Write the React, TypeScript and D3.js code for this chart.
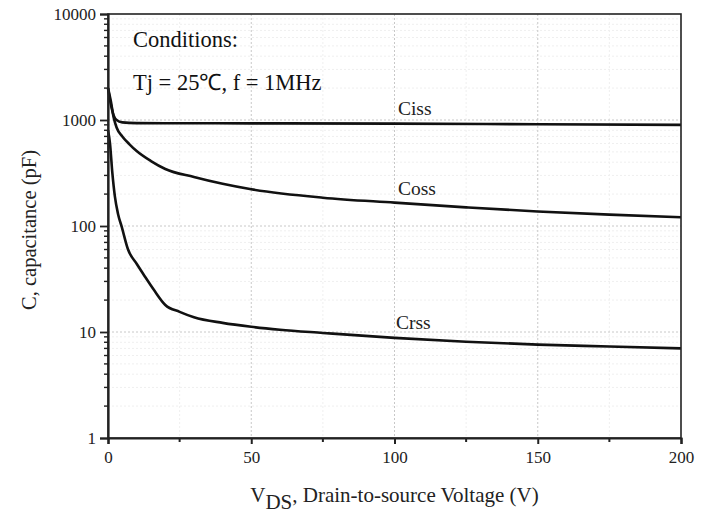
import React, { useRef, useEffect } from 'react'
import * as d3 from 'd3'

// V_DS (V) sample points
const cissV = [0, 1, 2, 3, 5, 10, 20, 50, 100, 150, 200]
const cissC = [2000, 1400, 1100, 1000, 950, 935, 932, 930, 925, 912, 900]

const cossV = [0, 1, 2, 3, 5, 7.5, 10, 15, 20, 30, 40, 50, 75, 100, 125, 150, 175, 200]
const cossC = [2000, 1500, 1050, 850, 700, 590, 510, 410, 345, 290, 250, 222, 185, 166, 150, 137, 128, 121]

const crssV = [0, 0.7, 1.5, 2.4, 3.5, 4.8, 7, 10, 13, 16, 20, 25, 30, 40, 50, 60, 75, 100, 125, 150, 175, 200]
const crssC = [800, 600, 320, 190, 130, 98, 60, 44, 33, 25, 18, 15.5, 13.8, 12.2, 11.2, 10.5, 9.8, 8.8, 8.1, 7.6, 7.3, 7.0]

const xTicks = [0, 50, 100, 150, 200]
const xMinorTicks = [25, 75, 125, 175]
const yTicks = [1, 10, 100, 1000, 10000]

const curveLabels = [
  { text: 'Ciss', v: 101.2, c: 1114 },
  { text: 'Coss', v: 101.2, c: 196 },
  { text: 'Crss', v: 100.5, c: 10.7 },
]

const W = 712
const H = 513

const App: React.FC = () => {
  const svgRef = useRef<SVGSVGElement>(null)

  useEffect(() => {
    const margin = { top: 14, right: 31, bottom: 75, left: 108 }
    const innerW = W - margin.left - margin.right
    const innerH = H - margin.top - margin.bottom
    const serif = '"Times New Roman", "Liberation Serif", serif'

    const x = d3.scaleLinear().domain([0, 200]).range([0, innerW])
    const y = d3.scaleLog().domain([1, 10000]).range([innerH, 0])

    const svg = d3.select(svgRef.current!)
    svg.selectAll('*').remove()

    svg.append('rect').attr('width', W).attr('height', H).attr('fill', 'white')

    const g = svg.append('g').attr('transform', `translate(${margin.left},${margin.top})`)

    // minor log values
    const yMinor: number[] = []
    for (let d = 1; d < 10000; d *= 10) {
      for (let k = 2; k <= 9; k++) yMinor.push(d * k)
    }

    // faint minor grid
    g.append('g')
      .selectAll('line')
      .data(yMinor)
      .join('line')
      .attr('x1', 0)
      .attr('x2', innerW)
      .attr('y1', d => y(d))
      .attr('y2', d => y(d))
      .attr('stroke', '#efefef')
      .attr('stroke-width', 1)
      .attr('stroke-dasharray', '2,2')
    g.append('g')
      .selectAll('line')
      .data(xMinorTicks)
      .join('line')
      .attr('x1', d => x(d))
      .attr('x2', d => x(d))
      .attr('y1', 0)
      .attr('y2', innerH)
      .attr('stroke', '#efefef')
      .attr('stroke-width', 1)
      .attr('stroke-dasharray', '2,2')

    // major grid
    g.append('g')
      .selectAll('line')
      .data(yTicks.slice(1, -1))
      .join('line')
      .attr('x1', 0)
      .attr('x2', innerW)
      .attr('y1', d => y(d))
      .attr('y2', d => y(d))
      .attr('stroke', '#c8c8c8')
      .attr('stroke-width', 1)
      .attr('stroke-dasharray', '2,2')
    g.append('g')
      .selectAll('line')
      .data(xTicks.slice(1, -1))
      .join('line')
      .attr('x1', d => x(d))
      .attr('x2', d => x(d))
      .attr('y1', 0)
      .attr('y2', innerH)
      .attr('stroke', '#c8c8c8')
      .attr('stroke-width', 1)
      .attr('stroke-dasharray', '2,2')

    // curves
    const line = d3
      .line<[number, number]>()
      .x(d => x(d[0]))
      .y(d => y(d[1]))
      .curve(d3.curveMonotoneX)

    const series: [number[], number[]][] = [
      [cissV, cissC],
      [cossV, cossC],
      [crssV, crssC],
    ]
    series.forEach(([vs, cs]) => {
      g.append('path')
        .datum(vs.map((v, i) => [v, cs[i]] as [number, number]))
        .attr('d', line)
        .attr('fill', 'none')
        .attr('stroke', '#111')
        .attr('stroke-width', 2.6)
        .attr('stroke-linejoin', 'round')
    })

    // frame
    g.append('rect')
      .attr('width', innerW)
      .attr('height', innerH)
      .attr('fill', 'none')
      .attr('stroke', '#222')
      .attr('stroke-width', 1.6)

    // x axis
    const xAxis = g
      .append('g')
      .attr('transform', `translate(0,${innerH})`)
      .call(d3.axisBottom(x).tickValues(xTicks).tickSize(6).tickPadding(7).tickFormat(d3.format('d')))
    xAxis.attr('font-family', serif).attr('font-size', 17)
    xAxis.select('.domain').attr('stroke', '#222').attr('stroke-width', 2.2)
    xAxis.selectAll('line').attr('stroke', '#222').attr('stroke-width', 2)
    xAxis.selectAll('text').attr('fill', '#222')
    g.append('g')
      .attr('transform', `translate(0,${innerH})`)
      .selectAll('line')
      .data(xMinorTicks)
      .join('line')
      .attr('x1', d => x(d))
      .attr('x2', d => x(d))
      .attr('y1', 0)
      .attr('y2', 4)
      .attr('stroke', '#222')
      .attr('stroke-width', 2)

    // y axis
    const yAxis = g
      .append('g')
      .call(d3.axisLeft(y).tickValues(yTicks).tickSize(8).tickPadding(4).tickFormat(d3.format('d')))
    yAxis.attr('font-family', serif).attr('font-size', 17)
    yAxis.select('.domain').attr('stroke', '#222').attr('stroke-width', 2.2)
    yAxis.selectAll('line').attr('stroke', '#222').attr('stroke-width', 1.8)
    yAxis.selectAll('text').attr('fill', '#222')
    g.append('g')
      .selectAll('line')
      .data(yMinor)
      .join('line')
      .attr('x1', -4)
      .attr('x2', 1)
      .attr('y1', d => y(d))
      .attr('y2', d => y(d))
      .attr('stroke', '#222')
      .attr('stroke-width', 1.4)

    // curve labels
    g.append('g')
      .selectAll('text')
      .data(curveLabels)
      .join('text')
      .attr('x', d => x(d.v))
      .attr('y', d => y(d.c))
      .attr('font-family', serif)
      .attr('font-size', 19.5)
      .attr('fill', '#222')
      .text(d => d.text)

    // conditions
    g.append('text')
      .attr('x', 25)
      .attr('y', 33)
      .attr('font-family', serif)
      .attr('font-size', 22.5)
      .attr('fill', '#111')
      .text('Conditions:')
    g.append('text')
      .attr('x', 25)
      .attr('y', 76)
      .attr('font-family', serif)
      .attr('font-size', 22.5)
      .attr('fill', '#111')
      .text('Tj = 25℃, f = 1MHz')

    // axis titles
    const xt = svg
      .append('text')
      .attr('x', margin.left + innerW / 2)
      .attr('y', 502)
      .attr('text-anchor', 'middle')
      .attr('font-family', serif)
      .attr('font-size', 21)
      .attr('fill', '#222')
    xt.append('tspan').text('V')
    xt.append('tspan').attr('dy', 7).text('DS')
    xt.append('tspan').attr('dy', -7).text(', Drain-to-source Voltage (V)')

    svg
      .append('text')
      .attr('transform', `translate(36,${margin.top + innerH / 2 + 4}) rotate(-90)`)
      .attr('text-anchor', 'middle')
      .attr('font-family', serif)
      .attr('font-size', 20.5)
      .attr('fill', '#222')
      .text('C, capacitance (pF)')
  }, [])

  return (
    <svg
      ref={svgRef}
      width={W}
      height={H}
      style={{ position: 'absolute', left: 0, top: 0 }}
    />
  )
}

export default App
